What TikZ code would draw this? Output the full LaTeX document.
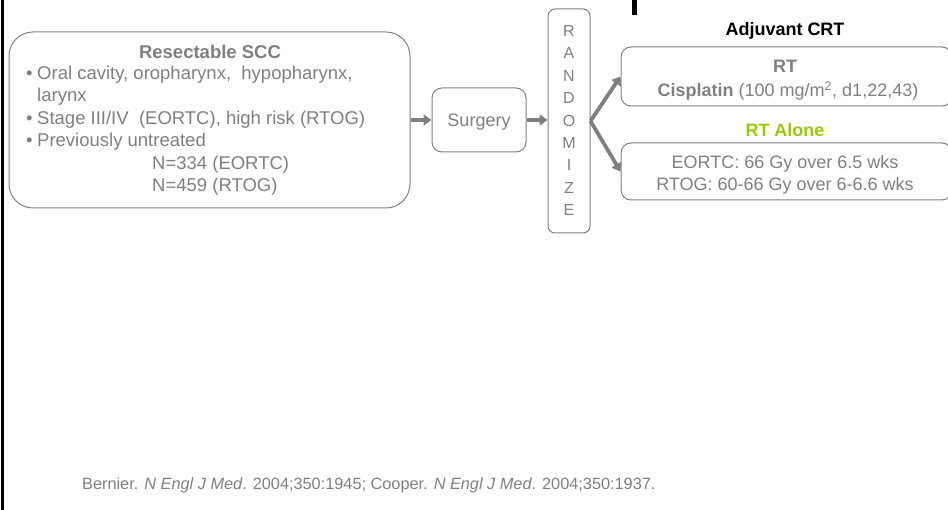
\documentclass[tikz,border=0pt]{standalone}
\usepackage{fontspec}
\setmainfont{Liberation Sans}
\usetikzlibrary{arrows.meta}
\definecolor{txtgray}{HTML}{7F7F7F}
\definecolor{boxgray}{HTML}{808080}
\definecolor{arrgray}{HTML}{7F7F7F}
\definecolor{rtgreen}{HTML}{99CC00}
\begin{document}
\begin{tikzpicture}[x=1pt,y=-1pt,
  bigbox/.style={draw=boxgray, line width=1pt, rounded corners=24pt, inner sep=0pt},
  midbox/.style={draw=boxgray, line width=1pt, rounded corners=10pt, inner sep=0pt},
  smallbox/.style={draw=boxgray, line width=1pt, rounded corners=7pt, inner sep=0pt},
  arr/.style={draw=arrgray, line width=3.8pt, -{Triangle[length=8pt,width=11pt]}},
  txt/.style={text=txtgray, inner sep=0pt, font=\fontsize{18}{22}\selectfont},
  ltxt/.style={text=txtgray, inner sep=0pt, font=\fontsize{18.5}{22}\selectfont},
  btxt/.style={txt, font=\fontsize{18}{22}\selectfont\bfseries},
  rl/.style={text=txtgray, inner sep=0pt, font=\fontsize{16}{20}\selectfont},
  note/.style={text=txtgray, inner sep=0pt, font=\fontsize{16.3}{18}\selectfont}]
\useasboundingbox (0,0) rectangle (948,510);
\clip (0,0) rectangle (948,510);
% left border line and title fragment
\fill[black] (1,0) rectangle (4,510);
\fill[black] (632,0) rectangle (637,15);
% boxes
\node[bigbox, minimum width=401pt, minimum height=176pt] (elig) at (209.5,120) {};
\node[midbox, minimum width=94pt, minimum height=64pt] (surg) at (479,120) {};
\node[smallbox, minimum width=42pt, minimum height=224pt] (rand) at (569,121) {};
\node[midbox, minimum width=331pt, minimum height=59pt] (crt) at (786.5,76.5) {};
\node[midbox, minimum width=331pt, minimum height=57pt] (alone) at (786.5,171.5) {};
% left box text
\node[btxt, font=\fontsize{18.5}{22}\selectfont\bfseries, anchor=base] (t0) at (210,59) {Resectable SCC};
\node[ltxt, anchor=base west] (b1) at (26,79.5) {\textbullet};
\node[ltxt, anchor=base west] (t1) at (37,79.5) {Oral cavity, oropharynx,\ \ hypopharynx,};
\node[ltxt, anchor=base west] (t2) at (37,102) {larynx};
\node[ltxt, anchor=base west] (b2) at (26,124.5) {\textbullet};
\node[ltxt, anchor=base west] (t3) at (37,124.5) {Stage III/IV\ \ (EORTC), high risk (RTOG)};
\node[ltxt, anchor=base west] (b3) at (26,147) {\textbullet};
\node[ltxt, anchor=base west] (t4) at (37,147) {Previously untreated};
\node[ltxt, anchor=base west] (t5) at (152,169.5) {N=334 (EORTC)};
\node[ltxt, anchor=base west] (t6) at (152,192) {N=459 (RTOG)};
% surgery
\node[txt, anchor=base] (st) at (479,127) {Surgery};
% randomize letters
\foreach \l [count=\i] in {R,A,N,D,O,M,I,Z,E}
  \node[rl, anchor=base] (r\i) at (569,{36.5+22.4*(\i-1)}) {\l};
% right side text
\node[inner sep=0pt, font=\fontsize{18}{22}\selectfont\bfseries, text=black, anchor=base] (adj) at (785,36) {Adjuvant CRT};
\node[btxt, anchor=base] (rt) at (785,73) {RT};
\node[txt, anchor=base] (cis) at (788,96.5) {\textbf{Cisplatin} (100 mg/m\textsuperscript{2}, d1,22,43)};
\node[btxt, text=rtgreen, anchor=base] (ra) at (785,137) {RT Alone};
\node[txt, anchor=base] (eo) at (785,168.5) {EORTC: 66 Gy over 6.5 wks};
\node[txt, anchor=base] (rg) at (785,190.5) {RTOG: 60-66 Gy over 6-6.6 wks};
% arrows
\draw[arr] (elig.east) -- (surg.west);
\draw[arr] (surg.east) -- (surg.east -| rand.west);
\draw[arr] (rand.east) -- (crt.west);
\draw[arr] (rand.east) -- (alone.west);
% footnote
\node[note, anchor=base west] (fn) at (82,489) {Bernier. \textit{N Engl J Med}. 2004;350:1945; Cooper. \textit{N Engl J Med}. 2004;350:1937.};
\end{tikzpicture}
\end{document}
